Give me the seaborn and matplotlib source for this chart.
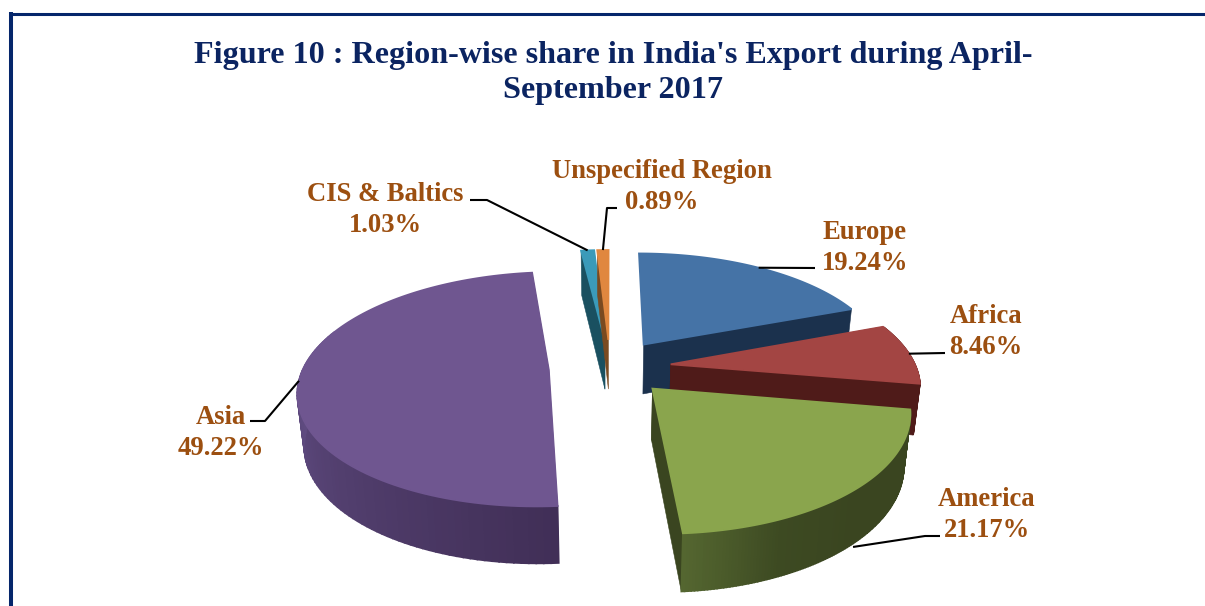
import matplotlib
matplotlib.use('Agg')
import matplotlib.pyplot as plt
import numpy as np
import seaborn as sb

# values, clockwise from 12 o'clock
regions = ['Europe', 'Africa', 'America', 'Asia', 'CIS & Baltics', 'Unspecified Region']
shares = [19.24, 8.46, 21.17, 49.22, 1.03, 0.89]

title = "Figure 10 : Region-wise share in India's Export during April-\nSeptember 2017"

top_colors = ['#4573a6', '#a34543', '#8aa54d', '#6f5690', '#3b9ab9', '#e0873f']
wall_colors = [['#1b314d', '#1b314d'], ['#4f1b19', '#4f1b19'],
               ['#3a4520', '#3a4520', '#3a4520', '#3d4a22', '#546630'],
               ['#412f57', '#5f4b80', '#5f4b80'], ['#1a5060', '#1a5060'], ['#7a4a20', '#7a4a20']]
draw_order = [3, 4, 5, 0, 1, 2]

# label centres and elbow of the leader line, in pixels
label_pos = [(865, 248), (986, 332), (987, 515), (221, 433), (385, 210), (662, 187)]
elbows = [[(815, 268)], [(945, 353)], [(925, 536), (940, 536)], [(265, 421), (250, 421)],
          [(487, 200), (470, 200)], [(607, 208), (617, 208)]]

# look of the 3d pie
cx, cy = 610, 367
rx, ry = 245, 113
persp = 0.166
depth = 50.5
depth_pow = 0.65
base_shrink = 0.978
explode = 0.25

sb.set_theme(style='white')
plt.rcParams['font.family'] = ['Liberation Serif', 'DejaVu Serif']

fig = plt.figure(figsize=(12.05, 6.06), dpi=100)
ax = fig.add_axes([0, 0, 1, 1])
ax.set_xlim(0, 1205)
ax.set_ylim(606, 0)
ax.axis('off')


def project(u, v):
    s = 1 / (1 + persp * v)
    return cx + rx * u * s, cy - ry * v * s, depth * s ** depth_pow


def base_x(x):
    # bottom face of the pie sits a bit further away
    return cx + (x - cx) * base_shrink


def draw_slice(start, end, top, walls, n=120):
    mid = np.radians((start + end) / 2)
    ou, ov = explode * np.sin(mid), explode * np.cos(mid)
    t = np.radians(np.linspace(start, end, n))
    x, y, d = project(ou + np.sin(t), ov + np.cos(t))
    ax0, ay0, ad = project(ou, ov)
    # flat side walls, the ones on the 12 o'clock line do not show
    for i, ang in [(0, start), (-1, end)]:
        if ang % 360 > 1:
            ax.fill([ax0, x[i], base_x(x[i]), base_x(ax0)], [ay0, y[i], y[i] + d[i], ay0 + ad],
                    color=walls[0], lw=0.4)
    # curved wall as shaded strips
    pal = sb.blend_palette(walls, n - 1)
    for i in range(n - 1):
        if np.cos(t[i]) < 0.35:
            ax.fill([x[i], x[i + 1], base_x(x[i + 1]), base_x(x[i])],
                    [y[i], y[i + 1], y[i + 1] + d[i + 1], y[i] + d[i]], color=pal[i], lw=1.2)
    # same edge width as the strips so they do not stick out past the top
    ax.fill(np.r_[ax0, x], np.r_[ay0, y], color=top, lw=1.3)


total = sum(shares)
angles = np.r_[0, np.cumsum(shares)] / total * 360

for k in draw_order:
    draw_slice(angles[k], angles[k + 1], top_colors[k], wall_colors[k])

# leader lines start from the rim at the middle of the slice
for k in range(len(regions)):
    mid = np.radians((angles[k] + angles[k + 1]) / 2)
    px, py, d = project((1 + explode) * np.sin(mid), (1 + explode) * np.cos(mid))
    if regions[k] == 'America':
        py = py + d
    pts = [(px, py)] + elbows[k]
    ax.plot([p[0] for p in pts], [p[1] for p in pts], color='black', lw=1.5, solid_capstyle='butt')
    ax.text(label_pos[k][0], label_pos[k][1], f'{regions[k]}\n{shares[k]:.2f}%', ha='center', va='center',
            fontsize=19.2, fontweight='bold', color='#9c4f10', linespacing=1.3)

ax.text(613, 73, title, ha='center', va='center', fontsize=23.1, fontweight='bold', color='#0b2461', linespacing=1.3)

# frame of the page, only top and left show
ax.plot([11.3, 11.3], [606, 12], color='#05266b', lw=2.9, solid_capstyle='butt')
ax.plot([9.3, 1205], [13.5, 13.5], color='#05266b', lw=2.2, solid_capstyle='butt')

fig.savefig('out.png', dpi=100)
